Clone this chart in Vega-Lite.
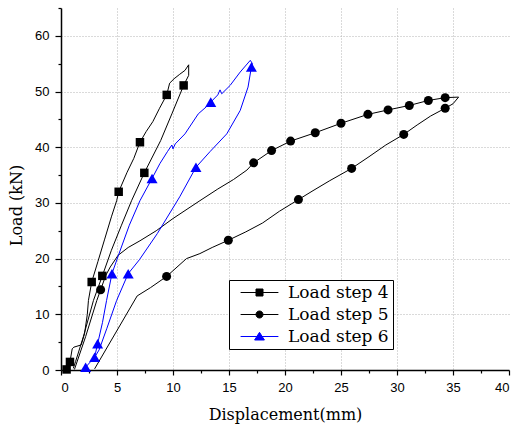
{
  "$schema": "https://vega.github.io/schema/vega-lite/v6.json",
  "width": 448,
  "height": 362,
  "autosize": {"type": "none"},
  "padding": {"left": 61, "top": 8, "right": 6, "bottom": 55},
  "background": "white",
  "config": {
    "view": {"stroke": null},
    "axis": {
      "domainColor": "#000000",
      "domainWidth": 1.5,
      "tickColor": "#000000",
      "tickWidth": 1.2,
      "labelFont": "Liberation Sans",
      "labelFontSize": 13,
      "labelColor": "#000000",
      "labelOverlap": false,
      "labelPadding": 5,
      "gridColor": "#b4b4b4",
      "gridDash": [1, 2],
      "gridWidth": 1,
      "titleFont": "DejaVu Serif",
      "titleFontSize": 16,
      "titleFontWeight": "normal",
      "titleColor": "#000000"
    }
  },
  "data": {
    "values": [
      {"s": "Load step 4", "i": 1, "x": 0.5, "y": 0.1, "m": 1},
      {"s": "Load step 4", "i": 2, "x": 0.8, "y": 1.45, "m": 1},
      {"s": "Load step 4", "i": 3, "x": 1.0, "y": 3.8, "m": 0},
      {"s": "Load step 4", "i": 4, "x": 1.15, "y": 4.1, "m": 0},
      {"s": "Load step 4", "i": 5, "x": 1.8, "y": 4.5, "m": 0},
      {"s": "Load step 4", "i": 6, "x": 2.1, "y": 6.5, "m": 0},
      {"s": "Load step 4", "i": 7, "x": 2.35, "y": 10, "m": 0},
      {"s": "Load step 4", "i": 8, "x": 2.45, "y": 12.5, "m": 0},
      {"s": "Load step 4", "i": 9, "x": 2.74, "y": 15.8, "m": 1},
      {"s": "Load step 4", "i": 10, "x": 3.3, "y": 19.5, "m": 0},
      {"s": "Load step 4", "i": 11, "x": 3.9, "y": 23.5, "m": 0},
      {"s": "Load step 4", "i": 12, "x": 4.5, "y": 27.5, "m": 0},
      {"s": "Load step 4", "i": 13, "x": 4.97, "y": 30.4, "m": 0},
      {"s": "Load step 4", "i": 14, "x": 5.15, "y": 32, "m": 1},
      {"s": "Load step 4", "i": 15, "x": 5.9, "y": 35.5, "m": 0},
      {"s": "Load step 4", "i": 16, "x": 6.5, "y": 38, "m": 0},
      {"s": "Load step 4", "i": 17, "x": 7.05, "y": 40.9, "m": 1},
      {"s": "Load step 4", "i": 18, "x": 7.6, "y": 42.8, "m": 0},
      {"s": "Load step 4", "i": 19, "x": 8.2, "y": 44.6, "m": 0},
      {"s": "Load step 4", "i": 20, "x": 8.8, "y": 47, "m": 0},
      {"s": "Load step 4", "i": 21, "x": 9.44, "y": 49.4, "m": 1},
      {"s": "Load step 4", "i": 22, "x": 9.7, "y": 51.5, "m": 0},
      {"s": "Load step 4", "i": 23, "x": 10.1, "y": 52.3, "m": 0},
      {"s": "Load step 4", "i": 24, "x": 10.6, "y": 53.1, "m": 0},
      {"s": "Load step 4", "i": 25, "x": 11.07, "y": 53.8, "m": 0},
      {"s": "Load step 4", "i": 26, "x": 11.4, "y": 54.8, "m": 0},
      {"s": "Load step 4", "i": 27, "x": 11.4, "y": 52.9, "m": 0},
      {"s": "Load step 4", "i": 28, "x": 10.95, "y": 51.1, "m": 1},
      {"s": "Load step 4", "i": 29, "x": 9.9, "y": 46, "m": 0},
      {"s": "Load step 4", "i": 30, "x": 8.9, "y": 41.2, "m": 0},
      {"s": "Load step 4", "i": 31, "x": 7.44, "y": 35.4, "m": 1},
      {"s": "Load step 4", "i": 32, "x": 6.3, "y": 30.4, "m": 0},
      {"s": "Load step 4", "i": 33, "x": 5.4, "y": 26, "m": 0},
      {"s": "Load step 4", "i": 34, "x": 4.5, "y": 21.5, "m": 0},
      {"s": "Load step 4", "i": 35, "x": 3.69, "y": 16.9, "m": 1},
      {"s": "Load step 4", "i": 36, "x": 2.9, "y": 12.5, "m": 0},
      {"s": "Load step 4", "i": 37, "x": 2.0, "y": 6, "m": 0},
      {"s": "Load step 4", "i": 38, "x": 1.3, "y": 1.5, "m": 0},
      {"s": "Load step 4", "i": 39, "x": 1.1, "y": 0.3, "m": 0},

      {"s": "Load step 5", "i": 1, "x": 1.2, "y": 0.1, "m": 0},
      {"s": "Load step 5", "i": 2, "x": 2.2, "y": 6, "m": 0},
      {"s": "Load step 5", "i": 3, "x": 3.2, "y": 12.5, "m": 0},
      {"s": "Load step 5", "i": 4, "x": 3.54, "y": 14.4, "m": 1},
      {"s": "Load step 5", "i": 5, "x": 4.0, "y": 17, "m": 0},
      {"s": "Load step 5", "i": 6, "x": 4.4, "y": 18.5, "m": 0},
      {"s": "Load step 5", "i": 7, "x": 5.1, "y": 20.6, "m": 0},
      {"s": "Load step 5", "i": 8, "x": 6.0, "y": 22, "m": 0},
      {"s": "Load step 5", "i": 9, "x": 7.05, "y": 23.2, "m": 0},
      {"s": "Load step 5", "i": 10, "x": 8.5, "y": 25, "m": 0},
      {"s": "Load step 5", "i": 11, "x": 10.0, "y": 27.2, "m": 0},
      {"s": "Load step 5", "i": 12, "x": 12.4, "y": 30.4, "m": 0},
      {"s": "Load step 5", "i": 13, "x": 14.0, "y": 32.5, "m": 0},
      {"s": "Load step 5", "i": 14, "x": 15.4, "y": 34.2, "m": 0},
      {"s": "Load step 5", "i": 15, "x": 16.6, "y": 35.9, "m": 0},
      {"s": "Load step 5", "i": 16, "x": 17.2, "y": 37.2, "m": 1},
      {"s": "Load step 5", "i": 17, "x": 18.8, "y": 39.4, "m": 1},
      {"s": "Load step 5", "i": 18, "x": 20.5, "y": 41.1, "m": 1},
      {"s": "Load step 5", "i": 19, "x": 22.7, "y": 42.6, "m": 1},
      {"s": "Load step 5", "i": 20, "x": 25.0, "y": 44.3, "m": 1},
      {"s": "Load step 5", "i": 21, "x": 27.4, "y": 45.9, "m": 1},
      {"s": "Load step 5", "i": 22, "x": 29.2, "y": 46.7, "m": 1},
      {"s": "Load step 5", "i": 23, "x": 31.1, "y": 47.5, "m": 1},
      {"s": "Load step 5", "i": 24, "x": 32.8, "y": 48.4, "m": 1},
      {"s": "Load step 5", "i": 25, "x": 34.3, "y": 48.9, "m": 1},
      {"s": "Load step 5", "i": 26, "x": 35.5, "y": 49.0, "m": 0},
      {"s": "Load step 5", "i": 27, "x": 35.0, "y": 47.8, "m": 0},
      {"s": "Load step 5", "i": 28, "x": 34.3, "y": 47.0, "m": 1},
      {"s": "Load step 5", "i": 29, "x": 33.0, "y": 45.6, "m": 0},
      {"s": "Load step 5", "i": 30, "x": 31.8, "y": 44.0, "m": 0},
      {"s": "Load step 5", "i": 31, "x": 30.6, "y": 42.3, "m": 1},
      {"s": "Load step 5", "i": 32, "x": 29.0, "y": 40.4, "m": 0},
      {"s": "Load step 5", "i": 33, "x": 27.5, "y": 38.3, "m": 0},
      {"s": "Load step 5", "i": 34, "x": 25.95, "y": 36.2, "m": 1},
      {"s": "Load step 5", "i": 35, "x": 24.0, "y": 34.0, "m": 0},
      {"s": "Load step 5", "i": 36, "x": 22.5, "y": 32.2, "m": 0},
      {"s": "Load step 5", "i": 37, "x": 21.2, "y": 30.6, "m": 1},
      {"s": "Load step 5", "i": 38, "x": 19.5, "y": 28.5, "m": 0},
      {"s": "Load step 5", "i": 39, "x": 18.0, "y": 26.4, "m": 0},
      {"s": "Load step 5", "i": 40, "x": 16.5, "y": 24.8, "m": 0},
      {"s": "Load step 5", "i": 41, "x": 14.94, "y": 23.3, "m": 1},
      {"s": "Load step 5", "i": 42, "x": 13.5, "y": 22.0, "m": 0},
      {"s": "Load step 5", "i": 43, "x": 12.4, "y": 20.9, "m": 0},
      {"s": "Load step 5", "i": 44, "x": 11.2, "y": 20.0, "m": 0},
      {"s": "Load step 5", "i": 45, "x": 9.43, "y": 16.8, "m": 1},
      {"s": "Load step 5", "i": 46, "x": 8.0, "y": 14.8, "m": 0},
      {"s": "Load step 5", "i": 47, "x": 6.8, "y": 13.3, "m": 0},
      {"s": "Load step 5", "i": 48, "x": 3.0, "y": 0.2, "m": 0},

      {"s": "Load step 6", "i": 1, "x": 2.2, "y": 0.5, "m": 1},
      {"s": "Load step 6", "i": 2, "x": 3.0, "y": 2.3, "m": 1},
      {"s": "Load step 6", "i": 3, "x": 3.27, "y": 4.7, "m": 1},
      {"s": "Load step 6", "i": 4, "x": 3.7, "y": 8.5, "m": 0},
      {"s": "Load step 6", "i": 5, "x": 4.07, "y": 12.5, "m": 0},
      {"s": "Load step 6", "i": 6, "x": 4.55, "y": 17.3, "m": 1},
      {"s": "Load step 6", "i": 7, "x": 5.2, "y": 21, "m": 0},
      {"s": "Load step 6", "i": 8, "x": 6.1, "y": 26, "m": 0},
      {"s": "Load step 6", "i": 9, "x": 7.05, "y": 30.4, "m": 0},
      {"s": "Load step 6", "i": 10, "x": 8.13, "y": 34.4, "m": 1},
      {"s": "Load step 6", "i": 11, "x": 8.84, "y": 37.1, "m": 0},
      {"s": "Load step 6", "i": 12, "x": 9.5, "y": 39.2, "m": 0},
      {"s": "Load step 6", "i": 13, "x": 9.9, "y": 40.4, "m": 0},
      {"s": "Load step 6", "i": 14, "x": 10.0, "y": 39.7, "m": 0},
      {"s": "Load step 6", "i": 15, "x": 10.2, "y": 40.6, "m": 0},
      {"s": "Load step 6", "i": 16, "x": 11.07, "y": 42.4, "m": 0},
      {"s": "Load step 6", "i": 17, "x": 12.26, "y": 46.0, "m": 0},
      {"s": "Load step 6", "i": 18, "x": 13.0, "y": 47.3, "m": 0},
      {"s": "Load step 6", "i": 19, "x": 13.37, "y": 48.1, "m": 1},
      {"s": "Load step 6", "i": 20, "x": 14.0, "y": 49.4, "m": 0},
      {"s": "Load step 6", "i": 21, "x": 14.2, "y": 50.3, "m": 0},
      {"s": "Load step 6", "i": 22, "x": 14.35, "y": 49.6, "m": 0},
      {"s": "Load step 6", "i": 23, "x": 15.1, "y": 51.1, "m": 0},
      {"s": "Load step 6", "i": 24, "x": 16.0, "y": 53.5, "m": 0},
      {"s": "Load step 6", "i": 25, "x": 16.9, "y": 55.6, "m": 0},
      {"s": "Load step 6", "i": 26, "x": 17.1, "y": 55.0, "m": 0},
      {"s": "Load step 6", "i": 27, "x": 17.0, "y": 54.4, "m": 1},
      {"s": "Load step 6", "i": 28, "x": 16.7, "y": 50.8, "m": 0},
      {"s": "Load step 6", "i": 29, "x": 16.0, "y": 46.6, "m": 0},
      {"s": "Load step 6", "i": 30, "x": 14.8, "y": 42.4, "m": 0},
      {"s": "Load step 6", "i": 31, "x": 13.3, "y": 39.2, "m": 0},
      {"s": "Load step 6", "i": 32, "x": 12.05, "y": 36.4, "m": 1},
      {"s": "Load step 6", "i": 33, "x": 10.6, "y": 31.1, "m": 0},
      {"s": "Load step 6", "i": 34, "x": 8.6, "y": 24.5, "m": 0},
      {"s": "Load step 6", "i": 35, "x": 7.0, "y": 19.8, "m": 0},
      {"s": "Load step 6", "i": 36, "x": 6.0, "y": 17.3, "m": 1},
      {"s": "Load step 6", "i": 37, "x": 4.97, "y": 12.5, "m": 0},
      {"s": "Load step 6", "i": 38, "x": 4.1, "y": 7.5, "m": 0},
      {"s": "Load step 6", "i": 39, "x": 3.4, "y": 3.6, "m": 0},
      {"s": "Load step 6", "i": 40, "x": 3.1, "y": 2.6, "m": 0}
    ]
  },
  "encoding": {
    "x": {
      "field": "x",
      "type": "quantitative",
      "scale": {"domain": [0, 40], "nice": false, "zero": false},
      "axis": {
        "title": "Displacement(mm)",
        "values": [0, 2.5, 5, 7.5, 10, 12.5, 15, 17.5, 20, 22.5, 25, 27.5, 30, 32.5, 35, 37.5, 40],
        "labelExpr": "datum.value % 5 === 0 ? datum.label : ''",
        "tickSize": {"condition": {"test": "datum.value % 5 !== 0", "value": 3}, "value": 5},
        "gridOpacity": {"condition": {"test": "datum.value % 5 !== 0 || datum.value === 0 || datum.value === 40", "value": 0}, "value": 1},
        "labelPadding": 6,
        "titleY": 36,
        "titleBaseline": "top"
      }
    },
    "y": {
      "field": "y",
      "type": "quantitative",
      "scale": {"domain": [0, 65], "nice": false, "zero": false},
      "axis": {
        "title": "Load (kN)",
        "values": [0, 5, 10, 15, 20, 25, 30, 35, 40, 45, 50, 55, 60, 65],
        "labelExpr": "datum.value % 10 === 0 ? datum.label : ''",
        "tickSize": {"condition": {"test": "datum.value % 10 !== 0", "value": 3}, "value": 6},
        "gridOpacity": {"condition": {"test": "datum.value % 10 !== 0 || datum.value === 0", "value": 0}, "value": 1},
        "labelPadding": 6,
        "titleX": -45,
        "titleY": 197,
        "titleBaseline": "middle"
      }
    },
    "color": {
      "field": "s",
      "type": "nominal",
      "scale": {"domain": ["Load step 4", "Load step 5", "Load step 6"], "range": ["#000000", "#000000", "#0000ff"]},
      "legend": {
        "orient": "none",
        "legendX": 168,
        "legendY": 272,
        "title": null,
        "strokeColor": "#000000",
        "fillColor": "#ffffff",
        "padding": 4,
        "rowPadding": 4,
        "labelFont": "DejaVu Serif",
        "labelFontSize": 17,
        "labelColor": "#000000",
        "labelLimit": 300,
        "symbolSize": 49,
        "symbolStrokeWidth": 1,
        "symbolOpacity": 1,
        "symbolOffset": 18,
        "labelOffset": 20
      }
    }
  },
  "layer": [
    {
      "mark": {"type": "line", "strokeWidth": 1},
      "encoding": {"order": {"field": "i", "type": "quantitative"}}
    },
    {
      "transform": [{"filter": "datum.m == 1 && datum.s === 'Load step 4'"}],
      "mark": {"type": "point", "shape": "square", "size": 72, "filled": true, "opacity": 1}
    },
    {
      "transform": [{"filter": "datum.m == 1 && datum.s === 'Load step 5'"}],
      "mark": {"type": "point", "shape": "circle", "size": 81, "filled": true, "opacity": 1}
    },
    {
      "transform": [{"filter": "datum.m == 1 && datum.s === 'Load step 6'"}],
      "mark": {"type": "point", "shape": "triangle-up", "size": 121, "filled": true, "opacity": 1}
    },
    {
      "transform": [{"filter": "datum.i == 1"}],
      "mark": {"type": "point", "filled": false, "opacity": 0, "strokeWidth": 1},
      "encoding": {
        "shape": {
          "field": "s",
          "type": "nominal",
          "scale": {"domain": ["Load step 4", "Load step 5", "Load step 6"], "range": ["M-5.4,0H5.4M-1,-1H1V1H-1Z", "M-5.4,0H5.4M1,0A1,1,0,1,1,-1,0A1,1,0,1,1,1,0Z", "M-5.4,0H5.4M0,-1.2L1.4,1H-1.4Z"]},
          "legend": null
        },
        "fill": {
          "field": "s",
          "type": "nominal",
          "scale": {"domain": ["Load step 4", "Load step 5", "Load step 6"], "range": ["#000000", "#000000", "#0000ff"]},
          "legend": null
        }
      }
    }
  ]
}
